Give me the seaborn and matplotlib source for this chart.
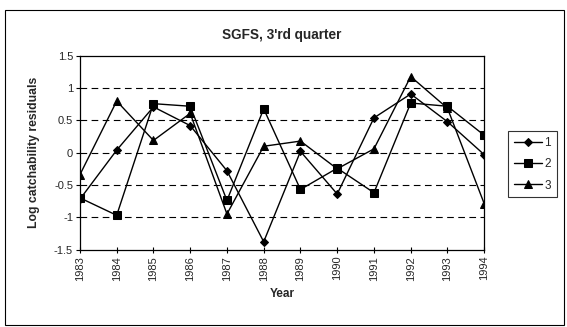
import numpy as np
import pandas as pd
import matplotlib
matplotlib.use("Agg")
import matplotlib.pyplot as plt
import seaborn as sns
from matplotlib.patches import Rectangle

years = [1983, 1984, 1985, 1986, 1987, 1988, 1989, 1990, 1991, 1992, 1993, 1994]
series_1 = [-0.72, 0.04, 0.71, 0.42, -0.28, -1.38, 0.02, -0.64, 0.54, 0.91, 0.48, -0.03]
series_2 = [-0.70, -0.97, 0.76, 0.72, -0.74, 0.68, -0.57, -0.24, -0.62, 0.77, 0.72, 0.27]
series_3 = [-0.34, 0.80, 0.19, 0.61, -0.95, 0.10, 0.18, -0.25, 0.06, 1.18, 0.69, -0.79]
series_names = ["1", "2", "3"]
y_ticks = [-1.5, -1, -0.5, 0, 0.5, 1, 1.5]

sns.set_theme(style="white")
plt.rcParams["font.family"] = ["Liberation Sans", "DejaVu Sans"]

fig = plt.figure(figsize=(5.67, 3.27), dpi=100)
fig.patch.set_facecolor("white")
# outer chart frame
fig.add_artist(Rectangle((0.008, 0.006), 0.986, 0.962, transform=fig.transFigure,
                         fill=False, edgecolor="black", linewidth=0.8))

ax = fig.add_axes([0.141, 0.237, 0.713, 0.592])

markers = {"1": "D", "2": "s", "3": "^"}
msizes = {"1": 4.4, "2": 5.4, "3": 5.8}
for name, vals in zip(series_names, [series_1, series_2, series_3]):
    df = pd.DataFrame({"Year": years, "Residual": vals})
    sns.lineplot(data=df, x="Year", y="Residual", ax=ax, color="black",
                 linewidth=1.0, marker=markers[name], markersize=msizes[name],
                 markeredgecolor="black", markerfacecolor="black", label=name)

ax.set_xlim(1983, 1994)
ax.set_ylim(-1.5, 1.5)
ax.set_xticks(years)
ax.set_xticklabels([str(y) for y in years], rotation=90, fontsize=8)
ax.set_yticks(y_ticks)
ax.set_yticklabels(["-1.5", "-1", "-0.5", "0", "0.5", "1", "1.5"], fontsize=8)

for v in [-1, -0.5, 0, 0.5, 1]:
    ax.axhline(v, color="black", linewidth=0.8, linestyle=(0, (6, 4)), zorder=0)

for sp in ax.spines.values():
    sp.set_color("black")
    sp.set_linewidth(0.9)

ax.tick_params(axis="x", direction="inout", length=5, width=0.8, color="black", pad=2, bottom=True)
ax.tick_params(axis="y", direction="out", length=3, width=0.8, color="black", pad=2, left=True)

ax.set_xlabel("Year", fontsize=8.5, fontweight="bold", labelpad=5)
ax.set_ylabel("Log catchability residuals", fontsize=8.8, fontweight="bold", labelpad=10)
ax.set_title("SGFS, 3'rd quarter", fontsize=9.8, fontweight="bold", pad=12)

leg = ax.legend(loc="center left", bbox_to_anchor=(1.058, 0.44), frameon=True,
                fancybox=False, edgecolor="black", fontsize=8.5, handlelength=2.4,
                handletextpad=0.2, borderpad=0.5, labelspacing=0.78, borderaxespad=0)
leg.get_frame().set_linewidth(0.8)

fig.savefig("out.png", dpi=100, facecolor="white")
